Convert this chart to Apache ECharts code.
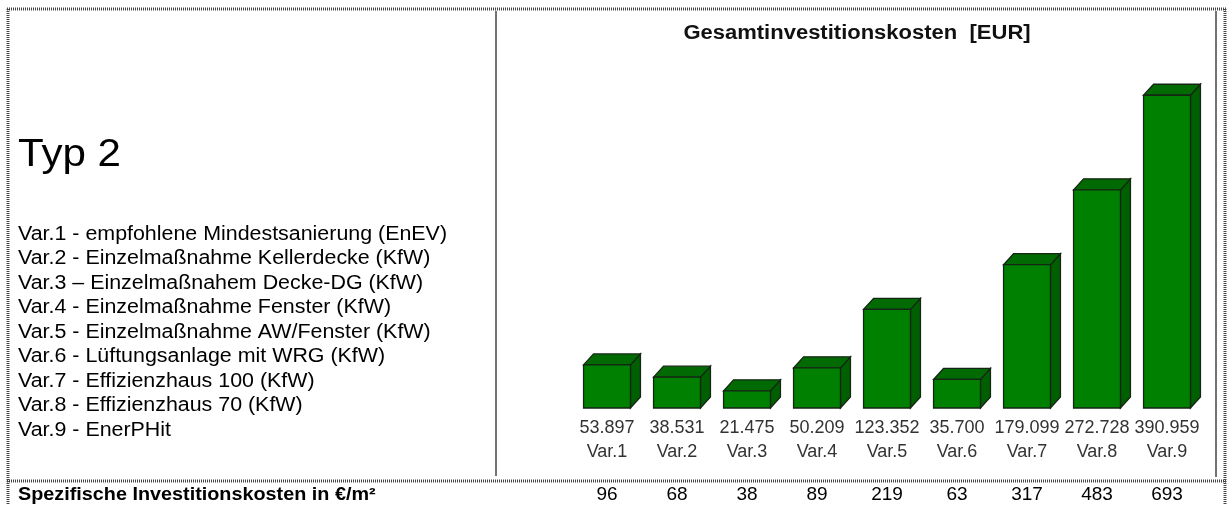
<!DOCTYPE html>
<html>
<head>
<meta charset="utf-8">
<style>
  html, body { margin: 0; padding: 0; background: #fff; }
  #chart { width: 1227px; height: 505px; }
</style>
<script src="https://cdn.jsdelivr.net/npm/echarts@6/dist/echarts.min.js"></script>
</head>
<body>
<div id="chart"></div>
<script>
const categories = ['Var.1', 'Var.2', 'Var.3', 'Var.4', 'Var.5', 'Var.6', 'Var.7', 'Var.8', 'Var.9']
const totalCosts = [53897, 38531, 21475, 50209, 123352, 35700, 179099, 272728, 390959]
const specificCosts = [96, 68, 38, 89, 219, 63, 317, 483, 693]
const descriptions = [
    'Var.1 - empfohlene Mindestsanierung (EnEV)',
    'Var.2 - Einzelmaßnahme Kellerdecke (KfW)',
    'Var.3 \u2013 Einzelmaßnahem Decke-DG (KfW)',
    'Var.4 - Einzelmaßnahme Fenster (KfW)',
    'Var.5 - Einzelmaßnahme AW/Fenster (KfW)',
    'Var.6 - Lüftungsanlage mit WRG (KfW)',
    'Var.7 - Effizienzhaus 100 (KfW)',
    'Var.8 - Effizienzhaus 70 (KfW)',
    'Var.9 - EnerPHit'
]

const FONT = '"Liberation Sans", Arial, sans-serif'

// 53897 -> "53.897"
const fmt = n => String(n).replace(/\B(?=(\d{3})+(?!\d))/g, '.')

const chart = echarts.init(document.getElementById('chart'))

// 3D box: side face, top face, front face
const renderBox = (params, api) => {
    const top = api.coord([api.value(0), api.value(1)])
    const base = api.coord([api.value(0), 0])
    const w = api.size([1, 0])[0] * 0.67
    const dx = 10, dy = 11
    const l = top[0] - w / 2, r = top[0] + w / 2, t = top[1], b = base[1]
    const stroke = { stroke: '#152615', lineWidth: 1.3 }
    return {
        type: 'group',
        children: [
            { type: 'polygon', shape: { points: [[r, t], [r + dx, t - dy], [r + dx, b - dy], [r, b]] }, style: { fill: '#005f00', ...stroke } },
            { type: 'polygon', shape: { points: [[l, t], [l + dx, t - dy], [r + dx, t - dy], [r, t]] }, style: { fill: '#026a02', ...stroke } },
            { type: 'rect', shape: { x: l, y: t, width: w, height: b - t }, style: { fill: '#008000', ...stroke } }
        ]
    }
}

const dotted = { stroke: '#444', lineWidth: 3, lineDash: [1, 1] }
const solid = { stroke: '#444', lineWidth: 1.5 }

const graphics = [
    { type: 'line', shape: { x1: 7, y1: 9, x2: 1226, y2: 9 }, style: dotted },
    { type: 'line', shape: { x1: 8, y1: 9, x2: 8, y2: 505 }, style: dotted },
    { type: 'line', shape: { x1: 1225, y1: 9, x2: 1225, y2: 505 }, style: dotted },
    { type: 'line', shape: { x1: 7, y1: 481, x2: 1226, y2: 481 }, style: dotted },
    { type: 'line', shape: { x1: 496, y1: 11, x2: 496, y2: 476 }, style: solid },
    { type: 'line', shape: { x1: 1216, y1: 11, x2: 1216, y2: 477 }, style: solid },
    {
        type: 'text', x: 857, y: 33, scaleX: 1.1,
        style: { text: 'Gesamtinvestitionskosten  [EUR]', font: 'bold 20px ' + FONT, fill: '#111', align: 'center', verticalAlign: 'middle' }
    },
    {
        type: 'text', x: 18, y: 155, scaleX: 1.08,
        style: { text: 'Typ 2', font: '39px ' + FONT, fill: '#000', verticalAlign: 'middle' }
    },
    {
        type: 'text', x: 18, y: 495, scaleX: 1.1,
        style: { text: 'Spezifische Investitionskosten in €/m²', font: 'bold 18px ' + FONT, fill: '#000', verticalAlign: 'middle' }
    }
]
descriptions.forEach((d, i) => {
    graphics.push({
        type: 'text', x: 18, y: 234 + i * 24.5, scaleX: 1.07,
        style: { text: d, font: '20px ' + FONT, fill: '#000', verticalAlign: 'middle' }
    })
})

const option = {
    animation: false,
    backgroundColor: '#fff',
    grid: { left: 572, right: 25, top: 88, bottom: 97 },
    xAxis: {
        type: 'category',
        data: categories,
        axisLine: { show: false },
        axisTick: { show: false },
        axisLabel: {
            margin: 8,
            interval: 0,
            formatter: (val, i) => `{v|${fmt(totalCosts[i])}}\n{c|${val}}\n{s|${specificCosts[i]}}`,
            rich: {
                v: { fontFamily: FONT, fontSize: 18, color: '#333', lineHeight: 24 },
                c: { fontFamily: FONT, fontSize: 18, color: '#333', lineHeight: 24 },
                s: { fontFamily: FONT, fontSize: 19, color: '#000', lineHeight: 62 }
            }
        }
    },
    yAxis: {
        type: 'value',
        min: 0,
        max: 400000,
        show: false
    },
    series: [{
        type: 'custom',
        renderItem: renderBox,
        encode: { x: 0, y: 1 },
        data: totalCosts.map((v, i) => [i, v])
    }],
    graphic: graphics
}

chart.setOption(option)
</script>
</body>
</html>
